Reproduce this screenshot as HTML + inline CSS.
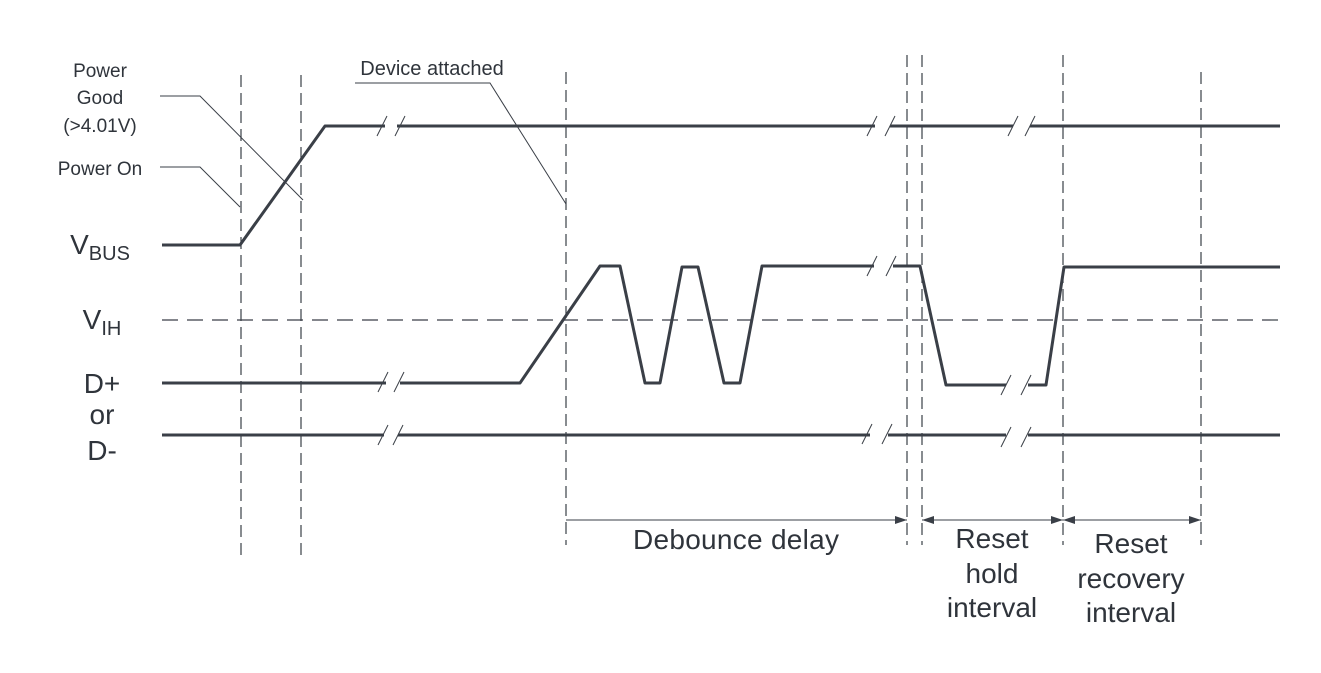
<!DOCTYPE html>
<html><head><style>body{margin:0;background:#fff}svg{display:block}text{font-family:"Liberation Sans",sans-serif;fill:#2f343b}</style></head><body>
<svg width="1321" height="673" viewBox="0 0 1321 673">
<defs><marker id="a" viewBox="0 0 12 8" refX="12" refY="4" markerWidth="12" markerHeight="8" orient="auto-start-reverse" markerUnits="userSpaceOnUse"><path d="M0,0L12,4L0,8z" fill="#3a3f47"/></marker></defs>
<g stroke="#3a3f47" stroke-width="1.2" stroke-dasharray="12,6" fill="none">
<line x1="241" y1="75" x2="241" y2="555"/><line x1="301" y1="75" x2="301" y2="555"/>
<line x1="566" y1="72" x2="566" y2="545"/><line x1="907" y1="55" x2="907" y2="545"/>
<line x1="922" y1="55" x2="922" y2="545"/><line x1="1063" y1="55" x2="1063" y2="545"/>
<line x1="1201" y1="72" x2="1201" y2="545"/>
<line x1="162" y1="320" x2="1282" y2="320" stroke-dasharray="16,9"/>
</g>
<g stroke="#3a3f47" stroke-width="1" fill="none">
<polyline points="160,96 200,96 303,200"/><polyline points="160,167 200,167 240,207"/><polyline points="355,83 490,83 566,204"/>
<line x1="566" y1="520" x2="907" y2="520" marker-end="url(#a)"/>
<line x1="922" y1="520" x2="1063" y2="520" marker-start="url(#a)" marker-end="url(#a)"/>
<line x1="1063" y1="520" x2="1201" y2="520" marker-start="url(#a)" marker-end="url(#a)"/>
<path d="M377,136l10,-20M395,136l10,-20M867,136l10,-20M885,136l10,-20M378,392l10,-20M394,392l10,-20M378,445l10,-20M393,445l10,-20M867,276l10,-20M886,276l10,-20M862,444l10,-20M882,444l10,-20M1001,395l10,-20M1021,395l10,-20M1001,447l10,-20M1021,447l10,-20M1008,136l10,-20M1025,136l10,-20"/>
</g>
<g stroke="#3a3f47" stroke-width="3" fill="none" stroke-linejoin="round">
<polyline points="162,245 240,245 325,126 385,126"/><line x1="397" y1="126" x2="875" y2="126"/><line x1="890" y1="126" x2="1013" y2="126"/><line x1="1030" y1="126" x2="1280" y2="126"/>
<line x1="162" y1="383" x2="386" y2="383"/>
<polyline points="400,383 520,383 600,266 620,266 645,383 660,383 682,267 698,267 724,383 740,383 762,266 874,266"/>
<polyline points="893,266 920,266 946,385 1006,385"/><polyline points="1028,385 1046,385 1064,267 1280,267"/>
<line x1="162" y1="435" x2="384" y2="435"/><line x1="398" y1="435" x2="870" y2="435"/><line x1="888" y1="435" x2="1006" y2="435"/><line x1="1028" y1="435" x2="1280" y2="435"/>
</g>
<g text-anchor="middle">
<text x="100" y="77" font-size="19">Power</text><text x="100" y="104" font-size="19">Good</text><text x="100" y="132" font-size="19">(&gt;4.01V)</text>
<text x="100" y="175" font-size="19">Power On</text><text x="432" y="75" font-size="20">Device attached</text>
<text x="100" y="254" font-size="28">V<tspan font-size="20" dy="6">BUS</tspan></text>
<text x="102" y="329" font-size="28">V<tspan font-size="20" dy="6">IH</tspan></text>
<text x="102" y="393" font-size="28">D+</text><text x="102" y="424" font-size="28">or</text><text x="102" y="460" font-size="28">D-</text>
<text x="736" y="549" font-size="28" textLength="206">Debounce delay</text>
<text x="992" y="548" font-size="28">Reset</text><text x="992" y="583" font-size="28">hold</text><text x="992" y="617" font-size="28">interval</text>
<text x="1131" y="553" font-size="28">Reset</text><text x="1131" y="588" font-size="28">recovery</text><text x="1131" y="622" font-size="28">interval</text>
</g>
</svg>
</body></html>
